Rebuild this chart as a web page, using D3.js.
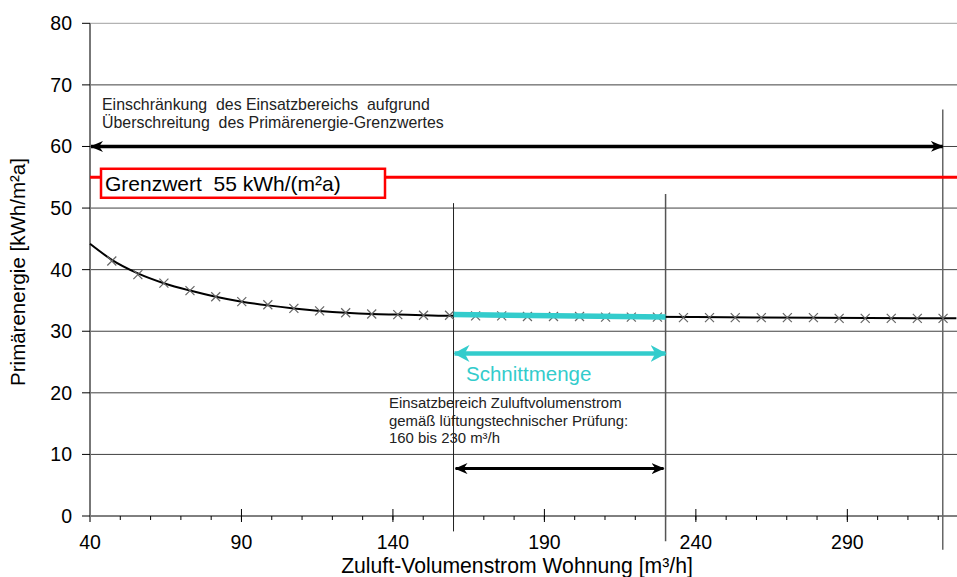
<!DOCTYPE html>
<html>
<head>
<meta charset="utf-8">
<script src="https://cdn.jsdelivr.net/npm/d3@7"></script>
<style>
  body { margin: 0; background: #fff; }
  svg { font-family: "Liberation Sans", Arial, sans-serif; }
</style>
</head>
<body>
<div id="chart"></div>
<script>
// measured points (x marks) - Zuluft-Volumenstrom vs Primärenergie
var flowValues = [47.2, 55.8, 64.4, 73.0, 81.5, 90.1, 98.7, 107.3, 115.8, 124.4, 133.0,
    141.6, 150.1, 158.7, 167.3, 175.9, 184.4, 193.0, 201.6, 210.2, 218.7, 227.3,
    235.9, 244.5, 253.0, 261.6, 270.2, 278.8, 287.3, 295.9, 304.5, 313.1, 321.6];
var energyValues = [41.4, 39.2, 37.8, 36.6, 35.6, 34.8, 34.3, 33.7, 33.3, 33.0, 32.8,
    32.7, 32.6, 32.6, 32.5, 32.5, 32.4, 32.4, 32.4, 32.3, 32.3, 32.3,
    32.2, 32.2, 32.2, 32.2, 32.2, 32.2, 32.1, 32.1, 32.1, 32.1, 32.1];

// fitted curve (solid black line)
var curveX = [40, 47.2, 55.8, 64.4, 73.0, 81.5, 90.1, 98.7, 107.3, 115.8, 124.4, 133.0, 141.6, 150.1, 160, 200, 240, 280, 326];
var curveY = [44.2, 41.6, 39.4, 37.8, 36.6, 35.6, 34.8, 34.2, 33.7, 33.3, 33.0, 32.8, 32.7, 32.6, 32.5, 32.4, 32.3, 32.2, 32.1];

// Schnittmenge (cyan segment)
var overlapX = [160, 230];
var overlapY = [32.7, 32.3];

var limitValue = 55;
var rangeStart = 160, rangeEnd = 230, limitEdge = 321.5;

var yTicks = [0, 10, 20, 30, 40, 50, 60, 70, 80];
var xTicks = [40, 90, 140, 190, 240, 290];
var xMinorTicks = d3.range(40, 330, 10);

var width = 957, height = 577;
var cyan = "#33cccc";

var svg = d3.select("#chart")
    .append("svg")
    .attr("width", width)
    .attr("height", height);

var x = d3.scaleLinear().domain([40, 326.2]).range([90, 957]);
var y = d3.scaleLinear().domain([0, 80]).range([516, 23.3]);

var defs = svg.append("defs");
function arrowMarker(id, color, len, half) {
    defs.append("marker")
        .attr("id", id)
        .attr("markerUnits", "userSpaceOnUse")
        .attr("viewBox", "0 0 " + len + " " + (half * 2))
        .attr("refX", len - 1)
        .attr("refY", half)
        .attr("markerWidth", len)
        .attr("markerHeight", half * 2)
        .attr("orient", "auto-start-reverse")
        .append("path")
        .attr("d", "M0,0L" + len + "," + half + "L0," + (half * 2) + "L" + (len * 0.3) + "," + half + "Z")
        .attr("fill", color);
}
arrowMarker("arrBlack", "#000", 13, 5.5);
arrowMarker("arrCyan", cyan, 16, 8.5);

// horizontal gridlines
svg.selectAll(".grid")
    .data(yTicks.filter(function(d) { return d > 0; }))
    .enter().append("line")
    .attr("class", "grid")
    .attr("x1", x(40)).attr("x2", width)
    .attr("y1", function(d) { return y(d); })
    .attr("y2", function(d) { return y(d); })
    .attr("stroke", function(d) { return d === 80 ? "#a0a0a0" : "#404040"; })
    .attr("stroke-width", 1);

// x axis line and ticks
svg.append("line")
    .attr("x1", x(40)).attr("x2", width)
    .attr("y1", y(0)).attr("y2", y(0))
    .attr("stroke", "#000");

svg.selectAll(".minor")
    .data(xMinorTicks)
    .enter().append("line")
    .attr("x1", function(d) { return x(d); })
    .attr("x2", function(d) { return x(d); })
    .attr("y1", y(0)).attr("y2", y(0) + 4)
    .attr("stroke", "#000");

svg.selectAll(".major")
    .data(xTicks)
    .enter().append("line")
    .attr("x1", function(d) { return x(d); })
    .attr("x2", function(d) { return x(d); })
    .attr("y1", y(0) - 7).attr("y2", y(0) + 6)
    .attr("stroke", "#000");

svg.selectAll(".xlab")
    .data(xTicks)
    .enter().append("text")
    .attr("x", function(d) { return x(d); })
    .attr("y", 549)
    .attr("text-anchor", "middle")
    .style("font-size", "19.5px")
    .text(function(d) { return d; });

// y axis
svg.append("line")
    .attr("x1", x(40)).attr("x2", x(40))
    .attr("y1", y(80)).attr("y2", y(0) + 6)
    .attr("stroke", "#777")
    .attr("stroke-width", 2);

svg.selectAll(".ytick")
    .data(yTicks)
    .enter().append("line")
    .attr("x1", x(40) - 8).attr("x2", x(40))
    .attr("y1", function(d) { return y(d); })
    .attr("y2", function(d) { return y(d); })
    .attr("stroke", "#000");

svg.selectAll(".ylab")
    .data(yTicks)
    .enter().append("text")
    .attr("x", 72)
    .attr("y", function(d) { return y(d) + 7; })
    .attr("text-anchor", "end")
    .style("font-size", "19.5px")
    .text(function(d) { return d; });

// axis titles
svg.append("text")
    .attr("x", 517)
    .attr("y", 573)
    .attr("text-anchor", "middle")
    .style("font-size", "21.2px")
    .text("Zuluft-Volumenstrom Wohnung [m³/h]");

svg.append("text")
    .attr("transform", "translate(25,272) rotate(-90)")
    .attr("text-anchor", "middle")
    .style("font-size", "20.5px")
    .text("Primärenergie [kWh/m²a]");

// vertical marker lines
svg.append("line")
    .attr("x1", x(rangeStart)).attr("x2", x(rangeStart))
    .attr("y1", y(50.8)).attr("y2", y(-2.5))
    .attr("stroke", "#222");
svg.append("line")
    .attr("x1", x(rangeEnd)).attr("x2", x(rangeEnd))
    .attr("y1", y(52.3)).attr("y2", y(-4.1))
    .attr("stroke", "#555").attr("stroke-width", 1.5);
svg.append("line")
    .attr("x1", x(limitEdge)).attr("x2", x(limitEdge))
    .attr("y1", y(66)).attr("y2", y(-5.5))
    .attr("stroke", "#666").attr("stroke-width", 1.5);

// limit line
svg.append("line")
    .attr("x1", x(40)).attr("x2", width)
    .attr("y1", y(limitValue)).attr("y2", y(limitValue))
    .attr("stroke", "#ff0000")
    .attr("stroke-width", 3);

svg.append("rect")
    .attr("x", 101).attr("y", y(limitValue) - 8.5)
    .attr("width", 284).attr("height", 29)
    .attr("fill", "#fff")
    .attr("stroke", "#ff0000")
    .attr("stroke-width", 2.5);

svg.append("text")
    .attr("x", 105)
    .attr("y", y(limitValue) + 13.5)
    .style("font-size", "21px")
    .style("white-space", "pre")
    .text("Grenzwert  55 kWh/(m²a)");

// restriction arrow at 60
svg.append("line")
    .attr("x1", x(40) + 1).attr("x2", x(limitEdge))
    .attr("y1", y(60)).attr("y2", y(60))
    .attr("stroke", "#000").attr("stroke-width", 3.5)
    .attr("marker-start", "url(#arrBlack)")
    .attr("marker-end", "url(#arrBlack)");

svg.append("text")
    .attr("x", 102).attr("y", 110)
    .style("font-size", "15.9px")
    .style("white-space", "pre")
    .attr("fill", "#222")
    .text("Einschränkung  des Einsatzbereichs  aufgrund");
svg.append("text")
    .attr("x", 102).attr("y", 127.5)
    .style("font-size", "15.9px")
    .style("white-space", "pre")
    .attr("fill", "#222")
    .text("Überschreitung  des Primärenergie-Grenzwertes");

// curve
var line = d3.line()
    .x(function(d) { return x(d[0]); })
    .y(function(d) { return y(d[1]); })
    .curve(d3.curveMonotoneX);

svg.append("path")
    .datum(d3.zip(curveX, curveY))
    .attr("d", line)
    .attr("fill", "none")
    .attr("stroke", "#000")
    .attr("stroke-width", 2);

// x markers
var points = d3.zip(flowValues, energyValues);
svg.selectAll(".mark")
    .data(points)
    .enter().append("path")
    .attr("class", "mark")
    .attr("d", function(d) {
        var cx = x(d[0]), cy = y(d[1]), s = 4.5;
        return "M" + (cx - s) + "," + (cy - s) + "L" + (cx + s) + "," + (cy + s) +
            "M" + (cx - s) + "," + (cy + s) + "L" + (cx + s) + "," + (cy - s);
    })
    .attr("stroke", "#666")
    .attr("stroke-width", 1.2);

// Schnittmenge
svg.append("path")
    .datum(d3.zip(overlapX, overlapY))
    .attr("d", d3.line().x(function(d) { return x(d[0]); }).y(function(d) { return y(d[1]); }))
    .attr("stroke", cyan)
    .attr("stroke-width", 5.5);

svg.append("line")
    .attr("x1", x(rangeStart) + 1).attr("x2", x(rangeEnd))
    .attr("y1", y(26.4)).attr("y2", y(26.4))
    .attr("stroke", cyan).attr("stroke-width", 4.5)
    .attr("marker-start", "url(#arrCyan)")
    .attr("marker-end", "url(#arrCyan)");

svg.append("text")
    .attr("x", 466).attr("y", 381)
    .style("font-size", "20.5px")
    .attr("fill", cyan)
    .text("Schnittmenge");

// Einsatzbereich
var rangeLines = ["Einsatzbereich Zuluftvolumenstrom",
    "gemäß lüftungstechnischer Prüfung:",
    "160 bis 230 m³/h"];
svg.selectAll(".rangeText")
    .data(rangeLines)
    .enter().append("text")
    .attr("x", 389)
    .attr("y", function(d, i) { return 408 + i * 17.5; })
    .style("font-size", "14.9px")
    .attr("fill", "#222")
    .text(function(d) { return d; });

svg.append("line")
    .attr("x1", x(rangeStart) + 2).attr("x2", x(rangeEnd) - 2)
    .attr("y1", y(7.7)).attr("y2", y(7.7))
    .attr("stroke", "#000").attr("stroke-width", 3)
    .attr("marker-start", "url(#arrBlack)")
    .attr("marker-end", "url(#arrBlack)");
</script>
</body>
</html>
